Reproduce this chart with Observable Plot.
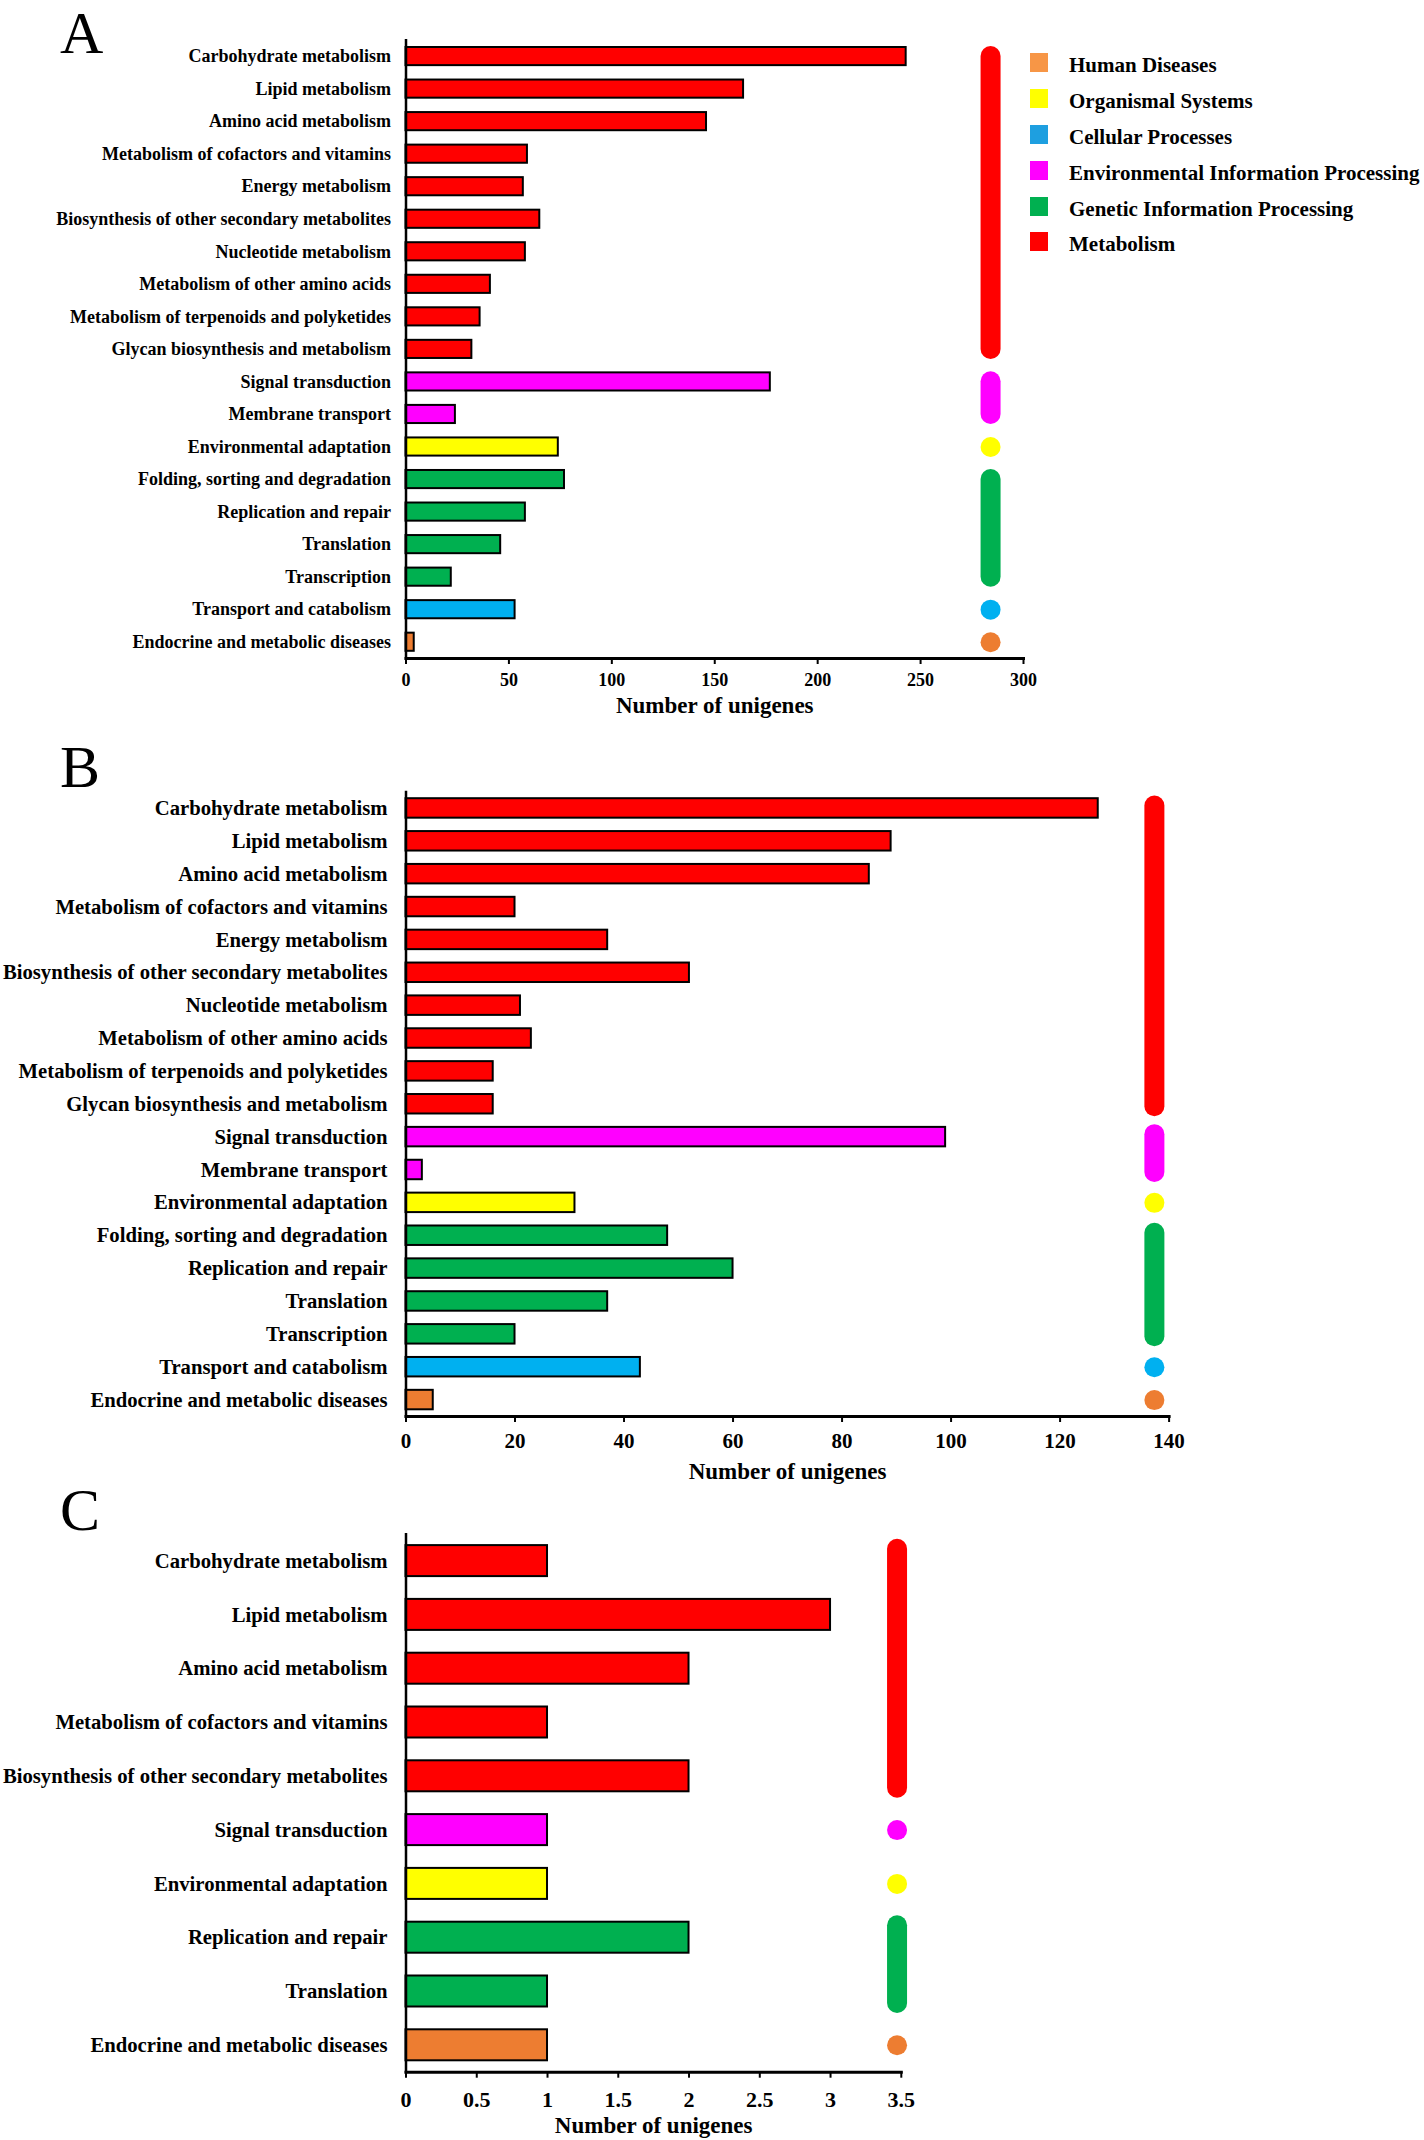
<!DOCTYPE html>
<html><head><meta charset="utf-8">
<script src="https://cdn.jsdelivr.net/npm/d3@7"></script>
<script src="https://cdn.jsdelivr.net/npm/@observablehq/plot@0.6"></script>
<style>
html,body{margin:0;padding:0;background:#fff;}
#page{position:relative;width:1424px;height:2140px;overflow:hidden;font-family:"Liberation Serif","Times New Roman",serif;}
.panel{position:absolute;left:0;}
.letter{position:absolute;left:60px;font-size:60px;line-height:50px;font-weight:normal;color:#000;}
.legend{position:absolute;left:1030px;top:45px;}
.legend .row{display:flex;align-items:center;height:35.8px;}
.legend .sw{width:18px;height:19px;margin-right:21px;box-sizing:border-box;}
.legend .lab{font-size:21px;font-weight:bold;color:#000;position:relative;top:3px;}
</style></head><body><div id="page"></div>
<script>
// ---------- data ----------
const groups = ["Human Diseases", "Organismal Systems", "Cellular Processes",
  "Environmental Information Processing", "Genetic Information Processing", "Metabolism"];
const groupColors = ["#ED7D31", "#FFFF00", "#00B0F0", "#FF00FF", "#00B050", "#FF0000"];
const legendColors = ["#F79646", "#FFFF00", "#1E9FE0", "#FF00FF", "#00B050", "#FF0000"];

const categoriesAB = ["Carbohydrate metabolism", "Lipid metabolism", "Amino acid metabolism",
  "Metabolism of cofactors and vitamins", "Energy metabolism", "Biosynthesis of other secondary metabolites",
  "Nucleotide metabolism", "Metabolism of other amino acids", "Metabolism of terpenoids and polyketides",
  "Glycan biosynthesis and metabolism", "Signal transduction", "Membrane transport",
  "Environmental adaptation", "Folding, sorting and degradation", "Replication and repair",
  "Translation", "Transcription", "Transport and catabolism", "Endocrine and metabolic diseases"];
const groupsAB = ["Metabolism", "Metabolism", "Metabolism", "Metabolism", "Metabolism", "Metabolism",
  "Metabolism", "Metabolism", "Metabolism", "Metabolism",
  "Environmental Information Processing", "Environmental Information Processing",
  "Organismal Systems",
  "Genetic Information Processing", "Genetic Information Processing", "Genetic Information Processing", "Genetic Information Processing",
  "Cellular Processes", "Human Diseases"];
const valuesA = [243, 164, 146, 59, 57, 65, 58, 41, 36, 32, 177, 24, 74, 77, 58, 46, 22, 53, 4];
const valuesB = [127, 89, 85, 20, 37, 52, 21, 23, 16, 16, 99, 3, 31, 48, 60, 37, 20, 43, 5];

const categoriesC = ["Carbohydrate metabolism", "Lipid metabolism", "Amino acid metabolism",
  "Metabolism of cofactors and vitamins", "Biosynthesis of other secondary metabolites",
  "Signal transduction", "Environmental adaptation", "Replication and repair", "Translation",
  "Endocrine and metabolic diseases"];
const groupsC = ["Metabolism", "Metabolism", "Metabolism", "Metabolism", "Metabolism",
  "Environmental Information Processing", "Organismal Systems",
  "Genetic Information Processing", "Genetic Information Processing", "Human Diseases"];
const valuesC = [1, 3, 2, 1, 2, 1, 1, 2, 1, 1];

const ticksA = [0, 50, 100, 150, 200, 250, 300];
const ticksB = [0, 20, 40, 60, 80, 100, 120, 140];
const ticksC = [0, 0.5, 1, 1.5, 2, 2.5, 3, 3.5];
const axisTitle = "Number of unigenes";
const panelLetters = ["A", "B", "C"];

// ---------- helpers ----------
function rowsOf(cats, grps, vals) {
  return cats.map((c, i) => ({category: c, group: grps[i], value: vals[i]}));
}
function spansOf(cats, grps) {
  const spans = [];
  cats.forEach((c, i) => {
    const last = spans[spans.length - 1];
    if (last && last.group === grps[i]) { last.last = c; last.n++; }
    else spans.push({group: grps[i], first: c, last: c, n: 1});
  });
  return spans;
}

function panel(cfg) {
  const rows = rowsOf(cfg.cats, cfg.grps, cfg.vals);
  const spans = spansOf(cfg.cats, cfg.grps);
  const multi = spans.filter(s => s.n > 1);
  const single = spans.filter(s => s.n === 1);
  const font = "Liberation Serif";
  return Plot.plot({
    width: 1424,
    height: cfg.height,
    marginLeft: 405.5,
    marginRight: cfg.marginRight,
    marginTop: cfg.marginTop,
    marginBottom: cfg.marginBottom,
    style: {background: "transparent", fontFamily: font, overflow: "visible", color: "black"},
    x: {domain: [0, cfg.ticks[cfg.ticks.length - 1]], label: null},
    y: {domain: cfg.cats, padding: 0, round: false, label: null},
    color: {domain: groups, range: groupColors},
    marks: [
      Plot.barX(rows, {x: "value", y: "category", fill: "group", stroke: "black", strokeWidth: 2,
        insetTop: cfg.barInset, insetBottom: cfg.barInset}),
      Plot.ruleX(multi, {x: () => cfg.indX, y1: "first", y2: "last", stroke: "group",
        strokeWidth: 20, strokeLinecap: "round", insetTop: cfg.indInset, insetBottom: cfg.indInset}),
      Plot.dot(single, {x: () => cfg.indX, y: "first", r: 10, fill: "group", stroke: null}),
      Plot.frame({anchor: "left", strokeWidth: 2.5}),
      Plot.frame({anchor: "bottom", strokeWidth: 3}),
      Plot.axisY({tickSize: 0, tickPadding: cfg.yPad, fontSize: cfg.yFont, fontWeight: "bold",
        fontFamily: font, label: null}),
      Plot.axisX({ticks: cfg.ticks, tickFormat: d => String(d), tickSize: 6, tickPadding: cfg.xPad,
        strokeWidth: 2, fontSize: cfg.xFont, fontWeight: "bold", fontFamily: font, label: null}),
      Plot.text([axisTitle], {frameAnchor: "bottom", dy: cfg.titleDy, lineAnchor: "middle",
        fontSize: 23, fontWeight: "bold", fontFamily: font, fill: "black"})
    ]
  });
}

const page = document.getElementById("page");
function place(node, top) {
  const d = document.createElement("div");
  d.className = "panel";
  d.style.top = top + "px";
  d.appendChild(node);
  page.appendChild(d);
}

place(panel({cats: categoriesAB, grps: groupsAB, vals: valuesA, ticks: ticksA, indX: 284,
  height: 730, marginTop: 39.8, marginBottom: 72, marginRight: 401, barInset: 7.2, indInset: 16.2,
  yFont: 18, yPad: 15, xFont: 18, xPad: 8.5, titleDy: 47}), 0);
place(panel({cats: categoriesAB, grps: groupsAB, vals: valuesB, ticks: ticksB, indX: 137.3,
  height: 750, marginTop: 51.5, marginBottom: 74, marginRight: 255.4, barInset: 6.7, indInset: 14,
  yFont: 20.7, yPad: 18.5, xFont: 21, xPad: 10.5, titleDy: 55}), 740);
place(panel({cats: categoriesC, grps: groupsC, vals: valuesC, ticks: ticksC, indX: 3.47,
  height: 650, marginTop: 43.7, marginBottom: 68.3, marginRight: 523.2, barInset: 11.4, indInset: 15,
  yFont: 20.7, yPad: 18.5, xFont: 22, xPad: 13, titleDy: 53}), 1490);

// panel letters
[[8], [742], [1485]].forEach(([top], i) => {
  const l = document.createElement("div");
  l.className = "letter";
  l.style.top = top + "px";
  l.textContent = panelLetters[i];
  page.appendChild(l);
});

// legend
const leg = document.createElement("div");
leg.className = "legend";
groups.forEach((g, i) => {
  const r = document.createElement("div");
  r.className = "row";
  const s = document.createElement("div");
  s.className = "sw";
  s.style.background = legendColors[i];
  const t = document.createElement("span");
  t.className = "lab";
  t.textContent = g;
  r.appendChild(s); r.appendChild(t);
  leg.appendChild(r);
});
page.appendChild(leg);
</script></body></html>
